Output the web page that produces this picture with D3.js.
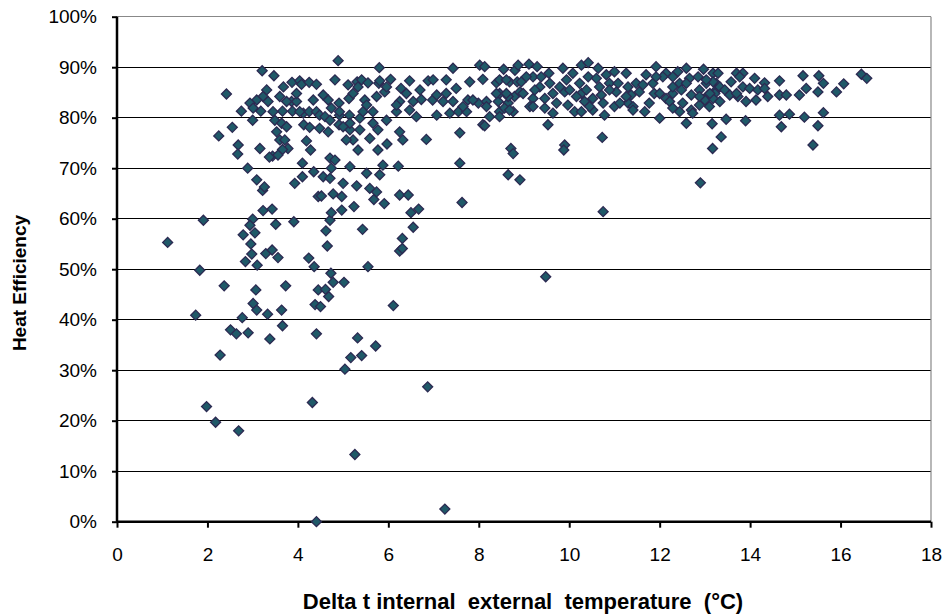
<!DOCTYPE html>
<html>
<head>
<meta charset="utf-8">
<script src="https://cdn.jsdelivr.net/npm/d3@7"></script>
<style>
  html, body { margin: 0; padding: 0; background: #fff; }
  svg { display: block; font-family: "Liberation Sans", Arial, sans-serif; }
</style>
</head>
<body>
<svg id="chart" width="943" height="615"></svg>
<script>
// ---- Data (Delta t in °C, heat efficiency in %) ----
const deltaT = [
  1.12,1.74,1.83,1.91,1.98,2.18,2.28,2.69,2.37,2.51,2.64,2.77,2.9,3.0,3.23,3.43,2.94,3.05,2.79,2.96,
  2.98,2.84,3.1,3.29,3.43,3.56,3.51,3.91,4.24,4.36,3.07,3.01,3.09,3.33,3.64,3.66,3.38,3.73,4.38,4.41,
  4.45,3.22,4.32,4.41,7.63,9.48,5.26,7.25,6.87,5.04,5.17,5.41,5.72,5.32,4.5,4.68,4.61,4.78,5.02,4.73,
  6.11,5.55,4.65,6.25,6.31,6.31,6.55,5.43,4.62,4.71,4.74,4.97,5.24,6.67,6.5,5.68,5.91,10.75,
  3.21,3.47,2.42,3.68,3.87,4.04,4.08,4.25,4.41,3.31,3.23,3.34,3.09,2.94,3.01,2.75,3.18,3.6,3.86,3.97,
  3.88,3.66,4.12,4.25,4.41,3.0,3.49,3.64,4.13,4.26,2.55,2.25,2.68,2.67,3.16,3.53,3.6,3.71,3.78,3.66,
  3.44,3.56,3.37,4.19,4.28,2.89,3.09,3.26,3.93,4.1,4.1,4.35,4.45,
  4.89,5.8,7.43,8.02,8.13,8.55,8.8,4.82,5.11,5.31,5.41,5.55,5.79,5.81,6.05,6.28,6.47,6.7,6.88,6.99,
  7.28,7.5,7.8,8.09,8.39,8.68,8.85,4.56,4.67,4.91,5.13,5.48,5.74,5.92,6.25,6.55,6.73,6.98,7.28,7.43,
  7.76,7.99,8.17,8.43,8.65,8.79,8.76,4.48,4.74,4.92,5.14,5.37,5.44,5.66,5.96,6.18,6.47,6.62,7.07,7.36,
  7.55,7.73,8.09,8.24,8.46,8.57,4.48,4.67,4.91,5.15,5.37,5.77,5.97,5.59,5.22,5.07,6.25,6.32,6.84,7.58,
  8.13,8.71,8.76,5.33,5.77,4.71,4.82,4.74,5.15,5.52,5.81,5.88,6.22,7.58,8.65,8.91,4.56,4.71,5.0,5.3,
  5.59,5.74,6.25,6.44,4.52,4.78,4.97,
  8.87,9.11,9.29,9.86,10.27,10.42,10.64,11.0,11.26,11.92,12.14,12.4,12.59,12.97,13.18,8.46,8.94,9.2,9.38,9.55,
  9.57,10.08,10.23,10.42,10.6,10.82,10.89,11.08,11.3,11.48,11.7,11.85,12.07,12.29,12.44,12.66,12.85,13.03,13.25,8.46,
  8.65,8.91,9.2,9.64,9.9,10.27,10.38,10.52,10.71,11.04,11.37,11.55,11.88,12.14,12.29,12.48,12.7,12.88,13.07,13.25,
  9.13,9.46,9.64,9.97,10.12,10.27,10.52,10.78,11.0,11.3,11.41,11.67,12.0,12.22,12.44,12.7,12.88,13.1,9.53,10.73,
  9.9,9.88,12.59,13.16,13.17,12.9,
  13.29,13.7,13.84,14.1,14.32,14.65,15.17,15.52,15.62,15.24,15.5,15.91,16.07,16.46,16.58,13.18,13.33,13.44,13.55,13.84,
  13.99,14.17,14.39,14.65,14.8,15.09,13.73,13.91,14.13,13.0,13.22,13.47,13.9,14.65,14.87,15.2,15.62,14.69,15.5,13.36,
  15.39,
  9.35,9.46,9.24,10.34,10.67,10.75,10.45,10.16,11.63,11.77,11.92,12.29,12.51,12.59,12.88,13.03,12.73,12.29,11.41,11.26,
  11.12,10.89,9.79,9.94,9.05,8.98,8.61,9.2,9.72,10.01,12.0,13.18,
  5.33,5.22,5.52,4.92,6.18,6.4,7.07,7.21,7.65,7.87,8.17,8.39,8.61,8.68,8.46,4.6,5.15,5.66,4.71,5.96,5.0,
  3.75,3.45,4.04,3.75,4.34,3.97,
  13.11,13.58,14.32,13.7,13.33,13.77
];
const efficiency = [
  55.3,40.9,49.8,59.7,22.8,19.7,33,18,46.7,38,37.2,40.4,37.4,59.9,61.6,61.9,58.7,57.2,56.8,55,
  53,51.5,50.8,53.1,53.8,52.3,58.9,59.4,52.2,50.5,45.9,43.2,41.9,41.1,41.9,38.8,36.2,46.7,43,37.2,
  45.9,65.6,23.6,0,63.2,48.5,13.3,2.5,26.7,30.2,32.5,32.9,34.8,36.4,42.6,44.6,46,47.4,47.4,49.2,
  42.8,50.5,54.6,53.6,54.1,56.1,58.3,57.9,57.6,59.7,61.2,61.7,62.4,61.9,61.2,63.8,63,61.4,
  89.3,88.3,84.7,86.1,87,87.3,86.6,87,86.6,85.5,84.2,83.2,83.5,82.9,81.9,81.3,81.3,84.2,83.2,83.2,
  81.3,81.3,80.9,81.2,81.2,79.5,79.5,78.9,78.6,78.1,78.1,76.4,74.6,72.8,73.9,77.2,75.6,75.6,73.9,73.7,
  72.4,72.6,72.2,75.4,73.6,70,67.7,66.3,67,68.3,71,69.3,64.4,
  91.3,89.9,89.8,90.4,90.1,89.6,89.4,87.5,86.5,87.1,87.5,86.9,86.8,87.3,87.6,85.8,87.3,85.5,87.3,87.5,
  87.5,85.8,87.1,87.6,86.9,87.1,87.1,84.5,83.5,82.9,83.8,83.5,84.2,85.1,83.2,83.2,83.6,83.5,84.8,83.2,
  83.5,82.9,83.2,83.2,82.9,84.2,81.2,80.5,81.9,80.5,80.5,79.9,81.2,81.2,79.5,81.2,81.5,80.2,80.5,80.9,
  81.2,81.2,78.6,80.2,81.2,81.9,77.9,77.2,78.6,77.6,77.6,77.6,74.8,75.9,75.6,75.6,77.2,75.6,75.7,77,
  78.4,73.9,72.9,73.6,73.6,72,71.6,70,70.3,69,68.7,70.6,70.4,71,68.7,67.7,68.3,68,67,66.5,
  66,65.3,64.7,64.7,64.5,64.9,64.4,
  90.4,90.6,90.1,89.8,90.4,90.9,89.8,89.1,88.8,90.1,88.8,89.1,89.8,89.6,88.8,87.5,87.1,88.1,88.1,88.8,
  86.8,88.8,86.8,88.1,87.8,88.5,86.8,86.8,86.1,86.8,88.5,86.8,88.1,88.1,86.8,87.8,88.1,86.8,86.8,84.8,
  84.2,85.1,83.8,84.8,85.1,84.8,85.5,83.8,84.5,85.1,84.5,85.1,84.8,83.8,84.8,85.5,84.5,85.5,84.5,85.5,
  82.2,81.9,80.9,82.5,81.2,81.2,81.5,80.5,82.2,82.9,82.2,81.2,79.9,83.2,81.2,81.5,82.5,82.2,78.6,76.1,
  74.6,73.6,78.9,78.8,73.9,67.1,
  88.8,88.8,88.8,87.8,86.9,87.3,88.3,88.3,86.8,85.8,85.1,85.1,86.7,88.6,87.8,87.1,86.1,85.5,84.5,86.1,
  85.8,85.5,84.2,84.5,84.5,84.5,84.2,83.2,83.5,83.5,84.8,79.7,79.4,80.5,80.7,80.1,81,78.2,78.4,76.2,
  74.6,
  86.1,83.8,85.5,83.2,86.1,82.9,82.2,84.2,86.5,82.9,88.1,86.1,82.9,86.8,84.2,87.5,80.9,81.9,81.5,84.2,
  82.9,85.5,86.1,87.5,88.1,84.8,87.5,82.2,82.9,85.5,84.8,83.8,
  86.1,84.8,82.5,81.2,82.5,84.8,84.5,83.2,82.2,83.5,82.2,84.8,84.8,81.5,80.2,80.2,78.9,78.9,79.5,86.1,78.2,
  83.2,81.2,81.2,78.2,83.5,84.8,
  84.8,87.1,85.8,84.8,83.2,88.1
];
const xTicks = [0, 2, 4, 6, 8, 10, 12, 14, 16, 18];
const yTicks = [0, 10, 20, 30, 40, 50, 60, 70, 80, 90, 100];
const xTitle = "Delta t internal  external  temperature  (°C)";
const yTitle = "Heat Efficiency";

const points = deltaT.map((d, i) => ({ x: d, y: efficiency[i] }));

// ---- Layout ----
const svg = d3.select("#chart");
const plot = { left: 117, right: 931, top: 16.7, bottom: 521.7 };
const x = d3.scaleLinear().domain([0, 18]).range([plot.left, plot.right]);
const y = d3.scaleLinear().domain([0, 100]).range([plot.bottom, plot.top]);

// gridlines
svg.append("g").selectAll("line")
  .data(yTicks.filter(t => t > 0))
  .join("line")
  .attr("x1", plot.left).attr("x2", plot.right)
  .attr("y1", d => y(d)).attr("y2", d => y(d))
  .attr("stroke", d => d === 100 ? "#888" : "#000")
  .attr("stroke-width", 1.2)
  .attr("shape-rendering", "crispEdges");

// right border
svg.append("line")
  .attr("x1", plot.right).attr("x2", plot.right)
  .attr("y1", plot.top).attr("y2", plot.bottom)
  .attr("stroke", "#888").attr("stroke-width", 1.2);

// y axis
const yAxis = svg.append("g")
  .attr("transform", `translate(${plot.left},0)`)
  .call(d3.axisLeft(y).tickValues(yTicks).tickFormat(d => d + "%").tickSize(5).tickPadding(15));
yAxis.select(".domain").attr("stroke", "#000").attr("stroke-width", 2.5).attr("d", `M0,${plot.top}V${plot.bottom}`);
yAxis.selectAll(".tick line").attr("stroke", "#000").attr("stroke-width", 2);
yAxis.selectAll("text").attr("font-size", 19).attr("font-family", "Liberation Sans, Arial, sans-serif").attr("fill", "#000");

// x axis
const xAxis = svg.append("g")
  .attr("transform", `translate(0,${plot.bottom})`)
  .call(d3.axisBottom(x).tickValues(xTicks).tickFormat(d3.format("d")).tickSize(6).tickPadding(20));
xAxis.select(".domain").attr("stroke", "#000").attr("stroke-width", 2.5).attr("d", `M${plot.left},0H${plot.right}`);
xAxis.selectAll(".tick line").attr("stroke", "#000").attr("stroke-width", 2);
xAxis.selectAll("text").attr("font-size", 19).attr("font-family", "Liberation Sans, Arial, sans-serif").attr("fill", "#000");

// points (diamonds)
const diamond = d3.symbol().type(d3.symbolSquare).size(50);
svg.append("g").selectAll("path")
  .data(points)
  .join("path")
  .attr("d", diamond)
  .attr("transform", d => `translate(${x(d.x)},${y(d.y)}) rotate(45)`)
  .attr("fill", "#1f5968")
  .attr("stroke", "#2c2a52")
  .attr("stroke-width", 1.3);

// titles
svg.append("text")
  .attr("x", 523)
  .attr("y", 609)
  .attr("text-anchor", "middle")
  .attr("font-size", 22)
  .attr("font-weight", "bold")
  .style("white-space", "pre")
  .text(xTitle);

svg.append("text")
  .attr("transform", `translate(26,283) rotate(-90)`)
  .attr("text-anchor", "middle")
  .attr("font-size", 19)
  .attr("font-weight", "bold")
  .text(yTitle);
</script>
</body>
</html>
